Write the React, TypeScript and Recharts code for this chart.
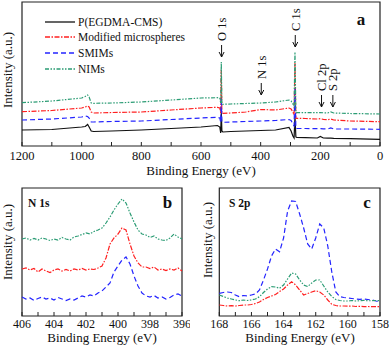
import { LineChart, Line, XAxis, YAxis, ReferenceArea, ReferenceDot, Legend } from 'recharts';

const FONT = '"Liberation Serif", "Times New Roman", serif';

// survey spectrum (panel a), binding energy in eV, intensity offset per sample
const surveyEnergy = [1200, 1100, 1000, 988, 980, 975, 968, 960, 900, 800, 700, 600, 545, 537, 534, 532, 530, 527, 500, 450, 400, 350, 305, 298, 292, 288, 285, 282, 279, 250, 210, 200, 190, 175, 165, 155, 100, 0];
const surveyBlack = [16, 16.5, 19, 19.5, 21.5, 19, 15, 14.5, 15, 16, 17.5, 19, 20.5, 19, 13, 34, 15, 14, 14.5, 15, 15.5, 16, 18.5, 15, 10, 8, 30, 9, 8.5, 8.3, 8, 9.5, 8, 7.8, 7.8, 7.6, 7.3, 6.7];
const surveyRed = [34.3, 35.5, 38, 39, 40, 39, 34, 33, 33.5, 34, 36, 38, 38.7, 38, 33, 76, 32.5, 32.7, 33, 34, 36.5, 36, 38, 37, 34, 31, 83, 28, 27.7, 27.5, 27, 27.3, 26.7, 26.3, 27, 26, 25, 24.3];
const surveyBlue = [26, 27, 29, 30, 29.5, 28, 24, 24, 24.5, 25, 26.5, 28, 28.7, 28, 24, 48, 24, 23.7, 24, 24.5, 25, 25.5, 26.5, 25.5, 22, 20, 58, 18, 17.5, 17.5, 17.3, 17.3, 17.2, 17, 18, 17, 17, 16.7];
const surveyGreen = [43.3, 45, 48, 49.5, 51, 49, 43, 42.7, 43, 44, 46, 48, 48.3, 48, 43, 84, 41.7, 41.7, 42, 42.5, 43, 44, 46, 45, 42, 40, 94, 33.3, 33.3, 33.3, 33.3, 33.5, 33.2, 33.2, 34, 33, 32.5, 32];

// N 1s region (panel b)
const n1sEnergy = [406, 405.75, 405.5, 405.25, 405, 404.75, 404.5, 404.25, 404, 403.75, 403.5, 403.25, 403, 402.75, 402.5, 402.25, 402, 401.75, 401.5, 401.25, 401, 400.75, 400.5, 400.25, 400, 399.75, 399.5, 399.25, 399, 398.75, 398.5, 398.25, 398, 397.75, 397.5, 397.25, 397, 396.75, 396.5, 396.25, 396];
const n1sGreen = [77, 78, 76, 77.5, 76, 78, 77, 75.5, 77, 76, 78.5, 77, 76, 79, 80, 81.5, 83, 82, 84.5, 86, 88, 93, 99, 106, 112, 117, 113, 103, 94, 86, 82, 81, 78.5, 80, 77, 76, 75.5, 78, 82, 79, 77];
const n1sRed = [47, 48, 46, 47.5, 44, 47, 45, 43.5, 46, 47, 45, 46.5, 45, 47, 46, 47.5, 46, 47, 46.5, 48, 50, 58, 72, 78, 82, 88, 86, 72, 60, 53, 49, 49, 47.5, 49, 46, 47, 45.5, 47, 46, 48, 45];
const n1sBlue = [19, 17, 18, 15.5, 17.5, 19, 17, 18, 16, 18.5, 17, 15.5, 17, 16, 18, 20, 19, 21, 20, 23, 25, 29, 33, 44, 50, 56, 59, 52, 40, 30, 23, 20, 19, 20.5, 18, 19, 17, 18.5, 21, 22, 20];

// S 2p region (panel c)
const s2pEnergy = [168, 167.75, 167.5, 167.25, 167, 166.75, 166.5, 166.25, 166, 165.75, 165.5, 165.25, 165, 164.75, 164.5, 164.25, 164, 163.75, 163.5, 163.25, 163, 162.75, 162.5, 162.25, 162, 161.75, 161.5, 161.25, 161, 160.75, 160.5, 160.25, 160, 159.75, 159.5, 159.25, 159, 158.75, 158.5, 158.25, 158];
const s2pBlue = [22.7, 23.5, 24, 23.5, 21, 19.3, 20.5, 20, 21, 22, 26, 36, 47, 60, 67, 64.3, 78, 105, 115, 114.5, 102, 88, 72, 67, 78, 92, 88, 70, 44, 24, 19.3, 18.5, 18, 17.5, 17, 16.7, 17, 16.5, 16, 15, 14.3];
const s2pGreen = [21, 19.5, 18, 17, 16, 15.3, 16, 15.5, 16, 17, 19.3, 23.5, 27, 29.3, 29, 27.7, 31, 37, 43, 42, 36, 31, 29.5, 33, 36, 36, 30, 24, 19.5, 16.5, 15.5, 15, 15, 15.5, 15, 15.3, 15.6, 15.2, 15.3, 15.5, 15.3];
const s2pRed = [11, 10.5, 10, 10.3, 10, 10.5, 11, 11, 11.5, 12.5, 14, 16.5, 18.5, 20, 21.5, 24.5, 27, 31, 34.3, 31, 26, 21, 22.5, 24, 25.3, 24, 21, 16, 11.7, 10.5, 10, 10, 9.8, 10, 9.5, 9.7, 9.3, 9.5, 9.3, 9.4, 9.3];

const surveyTicks = [1200, 1100, 1000, 900, 800, 700, 600, 500, 400, 300, 200, 100, 0];
const surveyLabels = [1200, 1000, 800, 600, 400, 200, 0];
const n1sTicks = [406, 405, 404, 403, 402, 401, 400, 399, 398, 397, 396];
const n1sLabels = [406, 404, 402, 400, 398, 396];
const s2pTicks = [168, 167, 166, 165, 164, 163, 162, 161, 160, 159, 158];
const s2pLabels = [168, 166, 164, 162, 160, 158];

const peakMarks = [
  { name: 'O 1s', energy: 531, level: 89 },
  { name: 'N 1s', energy: 398, level: 51 },
  { name: 'C 1s', energy: 284, level: 99 },
  { name: 'Cl 2p', energy: 196, level: 39 },
  { name: 'S 2p', energy: 158, level: 39 },
];

const series = [
  { key: 'black', name: 'P(EGDMA-CMS)', color: '#111111', dash: undefined as string | undefined },
  { key: 'red', name: 'Modified microspheres', color: '#ff2020', dash: '5 1.5 1.5 1.5' },
  { key: 'blue', name: 'SMIMs', color: '#2424ff', dash: '5 3' },
  { key: 'green', name: 'NIMs', color: '#2b9c74', dash: '4 1.5 1.5 1.5 1.5 1.5' },
];

const surveyRows = surveyEnergy.map((e, i) => ({ e, black: surveyBlack[i], red: surveyRed[i], blue: surveyBlue[i], green: surveyGreen[i] }));
const n1sRows = n1sEnergy.map((e, i) => ({ e, red: n1sRed[i], blue: n1sBlue[i], green: n1sGreen[i] }));
const s2pRows = s2pEnergy.map((e, i) => ({ e, red: s2pRed[i], blue: s2pBlue[i], green: s2pGreen[i] }));

const serif = { fontFamily: FONT };

function EnergyTick(props: any) {
  const { x, y, payload, labels, dy, fontSize } = props;
  const show = labels.includes(payload.value);
  return (
    <g>
      <line x1={x} y1={y} x2={x} y2={y - 4} stroke="#222" strokeWidth={1} />
      {show && (
        <text x={x} y={y + dy} textAnchor="middle" fontSize={fontSize} style={serif} fill="#111">
          {payload.value}
        </text>
      )}
    </g>
  );
}

function PeakArrow(props: any) {
  const { cx, cy, name } = props;
  const ty = cy - 16;
  return (
    <g>
      <line x1={cx} y1={cy} x2={cx} y2={cy - 12} stroke="#111" strokeWidth={1} />
      <polyline points={`${cx - 2.5},${cy - 5} ${cx},${cy} ${cx + 2.5},${cy - 5}`} fill="none" stroke="#111" strokeWidth={1} />
      <text x={cx} y={ty} dy="0.35em" transform={`rotate(-90, ${cx}, ${ty})`} fontSize={12.5} style={serif} fill="#111">
        {name}
      </text>
    </g>
  );
}

function renderLegend() {
  return (
    <div>
      {series.map((s) => (
        <div key={s.key} style={{ display: 'flex', alignItems: 'center', height: 15.6 }}>
          <svg width={30} height={6}>
            <line x1={0} x2={30} y1={3} y2={3} stroke={s.color} strokeWidth={1.3} strokeDasharray={s.dash} />
          </svg>
          <span style={{ marginLeft: 3, fontFamily: FONT, fontSize: 11.5, color: '#111', whiteSpace: 'nowrap' }}>{s.name}</span>
        </div>
      ))}
    </div>
  );
}

export default function App() {
  return (
    <div style={{ position: 'absolute', left: 0, top: 0, width: 390, height: 347, background: '#fff' }}>
      <div style={{ position: 'absolute', left: 0, top: 0 }}>
        <LineChart width={390} height={176} data={surveyRows} margin={{ top: 2, right: 10, bottom: 0, left: 0 }}>
          <XAxis
            dataKey="e"
            type="number"
            domain={[0, 1200]}
            reversed
            ticks={surveyTicks}
            interval={0}
            tickSize={0}
            tickMargin={0}
            axisLine={false}
            height={30}
            tick={(p: any) => <EnergyTick {...p} labels={surveyLabels} dy={13.5} fontSize={12.5} />}
          />
          <YAxis domain={[0, 144]} width={22} tick={false} tickLine={false} axisLine={false} />
          <ReferenceArea x1={0} x2={1200} y1={0} y2={144} fill="none" stroke="#222" strokeWidth={1.2} />
          <Legend layout="vertical" align="center" verticalAlign="middle" wrapperStyle={{ left: 45, top: 14, width: 'auto' }} content={renderLegend} />
          {series.map((s) => (
            <Line key={s.key} dataKey={s.key} name={s.name} type="linear" stroke={s.color} strokeWidth={1.2} strokeDasharray={s.dash} dot={false} isAnimationActive={false} />
          ))}
          {peakMarks.map((m) => (
            <ReferenceDot key={m.name} x={m.energy} y={m.level} r={0} shape={(p: any) => <PeakArrow {...p} name={m.name} />} />
          ))}
        </LineChart>
      </div>

      <div style={{ position: 'absolute', left: 0, top: 186 }}>
        <LineChart width={190} height={160} data={n1sRows} margin={{ top: 2, right: 8, bottom: 0, left: 0 }}>
          <XAxis
            dataKey="e"
            type="number"
            domain={[396, 406]}
            reversed
            ticks={n1sTicks}
            interval={0}
            tickSize={0}
            tickMargin={0}
            axisLine={false}
            height={30}
            tick={(p: any) => <EnergyTick {...p} labels={n1sLabels} dy={11.5} fontSize={12} />}
          />
          <YAxis domain={[0, 128]} width={22} tick={false} tickLine={false} axisLine={false} />
          <ReferenceArea x1={396} x2={406} y1={0} y2={128} fill="none" stroke="#222" strokeWidth={1.2} />
          {series.slice(1).map((s) => (
            <Line key={s.key} dataKey={s.key} type="linear" stroke={s.color} strokeWidth={1.2} strokeDasharray={s.dash} dot={false} isAnimationActive={false} />
          ))}
        </LineChart>
      </div>

      <div style={{ position: 'absolute', left: 195, top: 186 }}>
        <LineChart width={195} height={160} data={s2pRows} margin={{ top: 2, right: 10, bottom: 0, left: 0 }}>
          <XAxis
            dataKey="e"
            type="number"
            domain={[158, 168]}
            reversed
            ticks={s2pTicks}
            interval={0}
            tickSize={0}
            tickMargin={0}
            axisLine={false}
            height={30}
            tick={(p: any) => <EnergyTick {...p} labels={s2pLabels} dy={11.5} fontSize={12} />}
          />
          <YAxis domain={[0, 128]} width={24.3} tick={false} tickLine={false} axisLine={false} />
          <ReferenceArea x1={158} x2={168} y1={0} y2={128} fill="none" stroke="#222" strokeWidth={1.2} />
          {series.slice(1).map((s) => (
            <Line key={s.key} dataKey={s.key} type="linear" stroke={s.color} strokeWidth={1.2} strokeDasharray={s.dash} dot={false} isAnimationActive={false} />
          ))}
        </LineChart>
      </div>

      <svg width={390} height={347} style={{ position: 'absolute', left: 0, top: 0, pointerEvents: 'none', fontFamily: FONT }}>
        <g fill="#111" style={serif}>
          <text x={7} y={70} dy="0.35em" textAnchor="middle" fontSize={13} transform="rotate(-90, 7, 70)">Intensity (a.u.)</text>
          <text x={7} y={242} dy="0.35em" textAnchor="middle" fontSize={13} transform="rotate(-90, 7, 242)">Intensity (a.u.)</text>
          <text x={207} y={240} dy="0.35em" textAnchor="middle" fontSize={13} transform="rotate(-90, 207, 240)">Intensity (a.u.)</text>
          <text x={201} y={174.5} textAnchor="middle" fontSize={13}>Binding Energy (eV)</text>
          <text x={102} y={342} textAnchor="middle" fontSize={13}>Binding Energy (eV)</text>
          <text x={300} y={342} textAnchor="middle" fontSize={13}>Binding Energy (eV)</text>
          <text x={361} y={25} textAnchor="middle" fontSize={17} fontWeight="bold">a</text>
          <text x={167.5} y={208} textAnchor="middle" fontSize={17} fontWeight="bold">b</text>
          <text x={367} y={208} textAnchor="middle" fontSize={17} fontWeight="bold">c</text>
          <text x={28} y={207} fontSize={11.5} fontWeight="bold">N 1s</text>
          <text x={229} y={207} fontSize={11.5} fontWeight="bold">S 2p</text>
        </g>
      </svg>
    </div>
  );
}
